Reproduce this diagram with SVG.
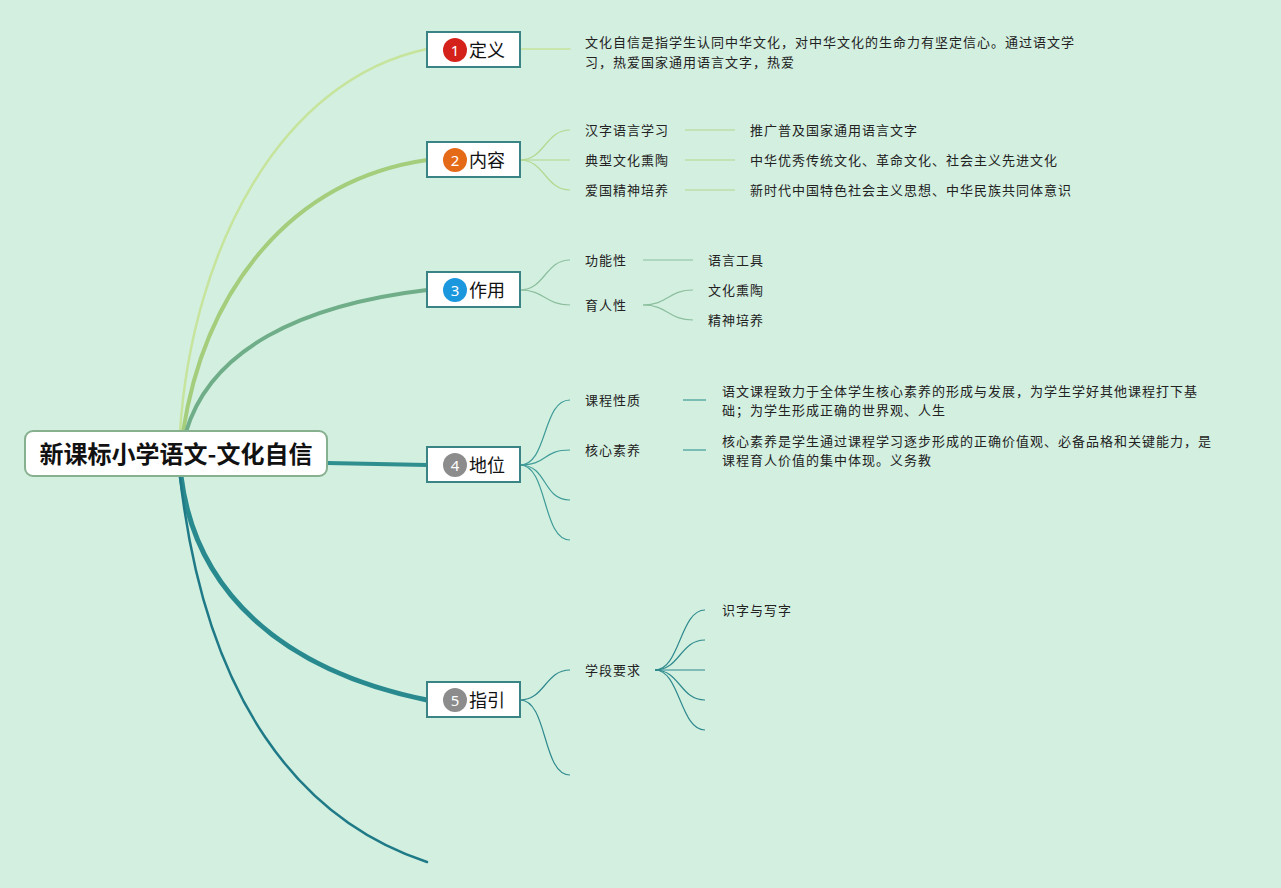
<svg xmlns="http://www.w3.org/2000/svg" width="1281" height="888" viewBox="0 0 1281 888">
<style>
.bg{fill:#d3efe0}
.node rect{fill:#ffffff;stroke:#3b8486;stroke-width:2}
.ntxt{font-family:"Noto Sans CJK SC","Noto Sans",sans-serif;font-size:18px;fill:#111}
.num{font-family:"Noto Sans","Liberation Sans",sans-serif;font-size:15px;fill:#fff;text-anchor:middle}
.t{font-family:"Noto Sans CJK SC","Noto Sans",sans-serif;font-size:13px;letter-spacing:1px;fill:#222}
.c{fill:none;stroke-linecap:round}
</style>
<rect class="bg" x="0" y="0" width="1281" height="888"/>
<g id="connectors">
  <path class="c" d="M180,432 C192,250 280,80 427,49" stroke="#c6e49c" stroke-width="2.5"/>
  <path class="c" d="M183,432 C205,290 290,180 427,160" stroke="#a4cd7c" stroke-width="4"/>
  <path class="c" d="M186,432 C210,350 300,305 427,290" stroke="#6fae88" stroke-width="4"/>
  <path class="c" d="M327,463 L427,465" stroke="#2f8f8e" stroke-width="4"/>
  <path class="c" d="M181,476 C195,590 280,670 427,700" stroke="#288a8e" stroke-width="5"/>
  <path class="c" d="M180,476 C205,700 300,820 427,862" stroke="#1f7a87" stroke-width="2.5"/>
  <path class="c" d="M520,49 L570,49" stroke="#c6e49c" stroke-width="1.3"/>
  <g stroke="#b3d88e" stroke-width="1.2" fill="none">
    <path d="M520,160 C545,160 545,130 570,130"/>
    <path d="M520,160 L570,160"/>
    <path d="M520,160 C545,160 545,190 570,190"/>
    <path d="M685,130 L735,130"/>
    <path d="M685,160 L735,160"/>
    <path d="M685,190 L735,190"/>
  </g>
  <g stroke="#8cbf9e" stroke-width="1.2" fill="none">
    <path d="M520,290 C545,290 545,260 570,260"/>
    <path d="M520,290 C545,290 545,305 570,305"/>
    <path d="M643,260 L693,260"/>
    <path d="M643,305 C668,305 668,290 693,290"/>
    <path d="M643,305 C668,305 668,320 693,320"/>
  </g>
  <g stroke="#3f9c98" stroke-width="1.2" fill="none">
    <path d="M520,465 C548,465 542,400 570,400"/>
    <path d="M520,465 C548,465 542,450 570,450"/>
    <path d="M520,465 C548,465 542,500 570,500"/>
    <path d="M520,465 C548,465 542,540 570,540"/>
    <path d="M683,400 L706,400"/>
    <path d="M683,450 L706,450"/>
  </g>
  <g stroke="#2f8a8e" stroke-width="1.2" fill="none">
    <path d="M520,700 C545,700 545,670 570,670"/>
    <path d="M520,700 C548,700 542,775 570,775"/>
    <path d="M655,670 C680,670 680,610 705,610"/>
    <path d="M655,670 C680,670 680,640 705,640"/>
    <path d="M655,670 L705,670"/>
    <path d="M655,670 C680,670 680,700 705,700"/>
    <path d="M655,670 C680,670 680,730 705,730"/>
  </g>
</g>
<g id="root">
  <rect x="25" y="431" width="302" height="45" rx="8" fill="#fff" stroke="#86b08e" stroke-width="2"/>
  <text x="176" y="463" text-anchor="middle" font-family="Noto Sans CJK SC, Noto Sans, sans-serif" font-size="24" font-weight="bold" fill="#111">新课标小学语文-文化自信</text>
</g>
<g id="node1" class="node">
  <rect x="427" y="32" width="93" height="35"/>
  <circle cx="455" cy="50" r="12" fill="#d4221a"/>
  <text class="num" x="455" y="55.5">1</text>
  <text class="ntxt" x="469" y="57">定义</text>
</g>
<g id="node2" class="node">
  <rect x="427" y="142" width="93" height="35"/>
  <circle cx="455" cy="160" r="12" fill="#e56a18"/>
  <text class="num" x="455" y="165.5">2</text>
  <text class="ntxt" x="469" y="167">内容</text>
</g>
<g id="node3" class="node">
  <rect x="427" y="272" width="93" height="35"/>
  <circle cx="455" cy="290" r="12" fill="#1b97dd"/>
  <text class="num" x="455" y="295.5">3</text>
  <text class="ntxt" x="469" y="297">作用</text>
</g>
<g id="node4" class="node">
  <rect x="427" y="447" width="93" height="35"/>
  <circle cx="455" cy="465" r="12" fill="#8c8c8c"/>
  <text class="num" x="455" y="470.5">4</text>
  <text class="ntxt" x="469" y="472">地位</text>
</g>
<g id="node5" class="node">
  <rect x="427" y="682" width="93" height="35"/>
  <circle cx="455" cy="700" r="12" fill="#8c8c8c"/>
  <text class="num" x="455" y="705.5">5</text>
  <text class="ntxt" x="469" y="707">指引</text>
</g>
<g id="node1-detail">
  <text class="t" x="585" y="47">文化自信是指学生认同中华文化，对中华文化的生命力有坚定信心。通过语文学</text>
  <text class="t" x="585" y="67">习，热爱国家通用语言文字，热爱</text>
</g>
<g id="node2-children">
  <text class="t" x="585" y="135">汉字语言学习</text>
  <text class="t" x="585" y="165">典型文化熏陶</text>
  <text class="t" x="585" y="195">爱国精神培养</text>
  <text class="t" x="750" y="135">推广普及国家通用语言文字</text>
  <text class="t" x="750" y="165">中华优秀传统文化、革命文化、社会主义先进文化</text>
  <text class="t" x="750" y="195">新时代中国特色社会主义思想、中华民族共同体意识</text>
</g>
<g id="node3-children">
  <text class="t" x="585" y="265">功能性</text>
  <text class="t" x="585" y="310">育人性</text>
  <text class="t" x="708" y="265">语言工具</text>
  <text class="t" x="708" y="295">文化熏陶</text>
  <text class="t" x="708" y="325">精神培养</text>
</g>
<g id="node4-children">
  <text class="t" x="585" y="405">课程性质</text>
  <text class="t" x="585" y="455">核心素养</text>
  <text class="t" x="722" y="396">语文课程致力于全体学生核心素养的形成与发展，为学生学好其他课程打下基</text>
  <text class="t" x="722" y="415">础；为学生形成正确的世界观、人生</text>
  <text class="t" x="722" y="446">核心素养是学生通过课程学习逐步形成的正确价值观、必备品格和关键能力，是</text>
  <text class="t" x="722" y="465">课程育人价值的集中体现。义务教</text>
</g>
<g id="node5-children">
  <text class="t" x="585" y="675">学段要求</text>
  <text class="t" x="722" y="615">识字与写字</text>
</g>
</svg>
